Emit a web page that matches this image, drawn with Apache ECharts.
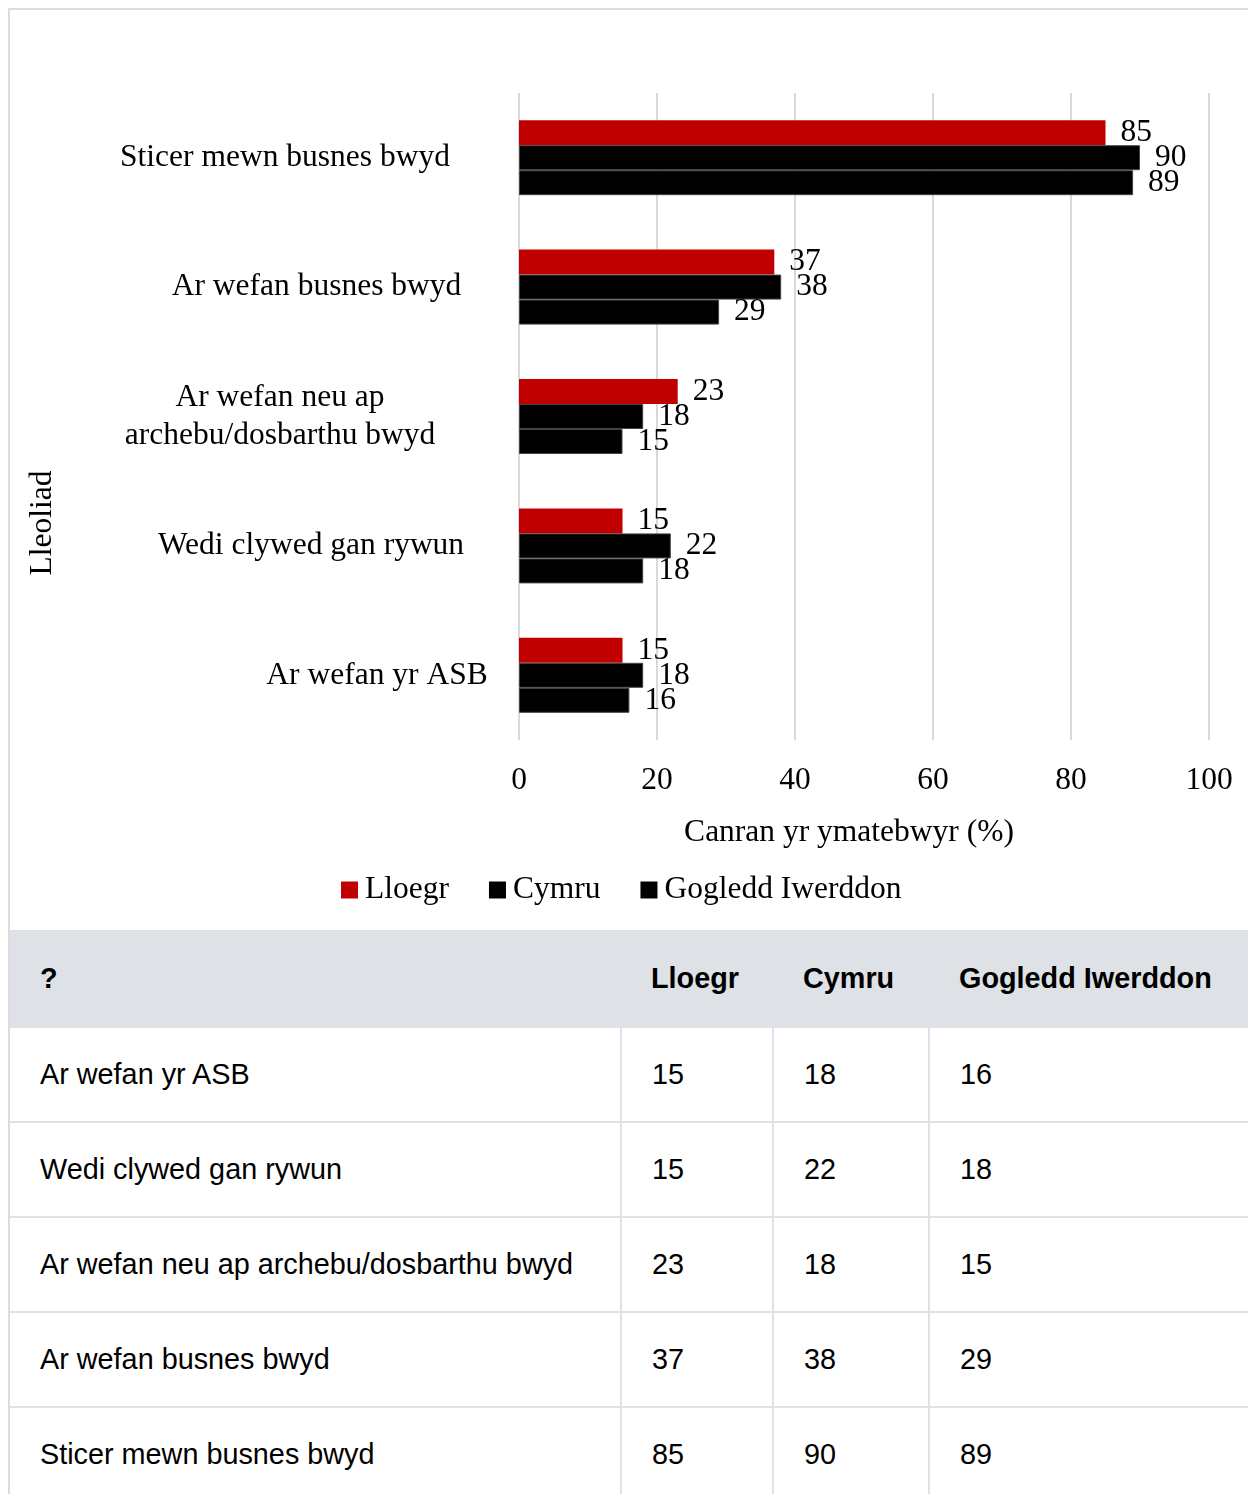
<!DOCTYPE html>
<html>
<head>
<meta charset="utf-8" />
<title></title>
<script src="https://cdn.jsdelivr.net/npm/echarts@6/dist/echarts.min.js"></script>
<style>
html, body { margin: 0; padding: 0; overflow: hidden; background: #fff; }
.wrap { position: absolute; left: 8px; top: 8px; width: 1300px; border: 2px solid #dcdcdc; border-right: none; }
#chart { width: 1250px; height: 920px; }
table { border-collapse: collapse; table-layout: fixed; width: 1300px; font-family: "Liberation Sans", Arial, sans-serif; font-size: 28.8px; color: #000; }
th { background: #dee2e6; font-weight: bold; text-align: left; height: 96px; padding: 0 0 0 30px; }
td { height: 93px; padding: 0 0 0 30px; border-top: 2px solid #dee2e6; border-left: 2px solid #dee2e6; }
td:first-child { border-left: none; }
</style>
</head>
<body>
<div class="wrap">
	<div id="chart"></div>
	<table id="tbl">
		<colgroup><col style="width:611px"><col style="width:152px"><col style="width:156px"><col></colgroup>
		<thead><tr id="head"></tr></thead>
		<tbody id="body"></tbody>
	</table>
</div>
<script type="text/javascript">
// data (categories bottom to top, same order as the table)
var categories = ['Ar wefan yr ASB', 'Wedi clywed gan rywun', 'Ar wefan neu ap archebu/dosbarthu bwyd', 'Ar wefan busnes bwyd', 'Sticer mewn busnes bwyd'];
var seriesNames = ['Lloegr', 'Cymru', 'Gogledd Iwerddon'];
var lloegr = [15, 15, 23, 37, 85];
var cymru = [18, 22, 18, 38, 90];
var gogleddIwerddon = [16, 18, 15, 29, 89];
var xTicks = [0, 20, 40, 60, 80, 100];
var xName = 'Canran yr ymatebwyr (%)';
var yName = 'Lleoliad';

var values = [lloegr, cymru, gogleddIwerddon];
var colors = ['#c00000', '#000000', '#000000'];
var serif = '"Liberation Serif", "Times New Roman", serif';
var fs = 31.5;
// horizontal nudge of each category label (px)
var labelShift = [0, 132, 194, 121, 184];

function wrap(s, max) {
	var words = s.split(' '), lines = [], cur = '';
	for (var i = 0; i < words.length; i++) {
		var t = cur ? cur + ' ' + words[i] : words[i];
		if (t.length > max && cur) { lines.push(cur); cur = words[i]; } else { cur = t; }
	}
	lines.push(cur);
	return lines;
}

var rich = {};
for (var i = 0; i < categories.length; i++) {
	rich['s' + i] = { fontFamily: serif, fontSize: fs, color: '#000', lineHeight: 38, padding: [0, labelShift[i], 0, 0] };
}

var series = [];
for (var k = 0; k < seriesNames.length; k++) {
	series.push({
		name: seriesNames[k],
		type: 'bar',
		data: values[k],
		barWidth: 25,
		barGap: '0%',
		itemStyle: { color: colors[k], borderColor: k ? '#444' : colors[k], borderWidth: k ? 1 : 0 },
		label: { show: true, position: 'right', distance: 15, fontFamily: serif, fontSize: fs, color: '#000' }
	});
}

var myChart = echarts.init(document.getElementById('chart'));
myChart.setOption({
	animation: false,
	grid: { left: 509, top: 83, width: 690, height: 647 },
	legend: {
		data: seriesNames,
		left: 331, top: 864, padding: 0,
		icon: 'rect', itemWidth: 17, itemHeight: 17, itemGap: 40,
		itemStyle: { borderWidth: 0 },
		textStyle: { fontFamily: serif, fontSize: fs, color: '#000', padding: [0, 0, 0, 2] }
	},
	xAxis: {
		type: 'value',
		min: xTicks[0], max: xTicks[xTicks.length - 1], interval: xTicks[1] - xTicks[0],
		axisLine: { show: false }, axisTick: { show: false },
		splitLine: { lineStyle: { color: '#d9d9d9', width: 2 } },
		axisLabel: { fontFamily: serif, fontSize: fs, color: '#000', margin: 25 },
		name: xName, nameLocation: 'middle', nameGap: 77,
		nameTextStyle: { fontFamily: serif, fontSize: fs, color: '#000', padding: [0, 30, 0, 0] }
	},
	yAxis: {
		type: 'category',
		data: categories,
		axisLine: { show: false }, axisTick: { show: false },
		axisLabel: {
			align: 'center', margin: 142,
			formatter: function (v, idx) {
				return wrap(v, 24).map(function (l) { return '{s' + idx + '|' + l + '}'; }).join('\n');
			},
			rich: rich
		}
	},
	graphic: [{
		type: 'text', x: 33, y: 513, rotation: Math.PI / 2,
		style: { text: yName, fontFamily: serif, fontSize: fs, fill: '#000', align: 'center', verticalAlign: 'middle' }
	}],
	series: series
});

// table
var head = '<th>?</th>';
for (var k = 0; k < seriesNames.length; k++) head += '<th>' + seriesNames[k] + '</th>';
document.getElementById('head').innerHTML = head;
var rows = '';
for (var i = 0; i < categories.length; i++) {
	rows += '<tr><td>' + categories[i] + '</td>';
	for (var k = 0; k < values.length; k++) rows += '<td>' + values[k][i] + '</td>';
	rows += '</tr>';
}
document.getElementById('body').innerHTML = rows;
</script>
</body>
</html>
